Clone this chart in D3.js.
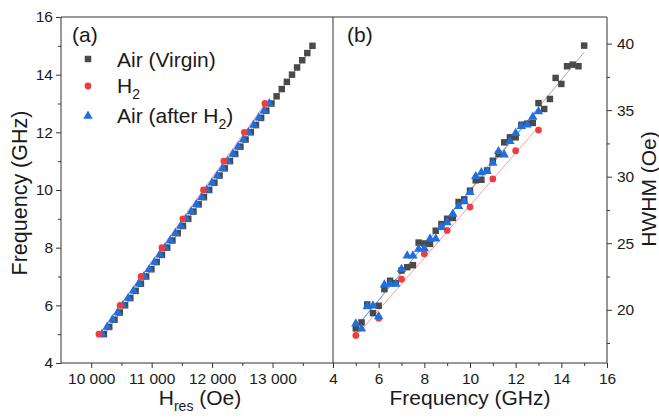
<!DOCTYPE html>
<html>
<head>
<meta charset="utf-8">
<script src="https://cdn.jsdelivr.net/npm/d3@7/dist/d3.min.js"></script>
<style>
  body { margin: 0; background: #fff; }
  svg text { font-family: "Liberation Sans", Arial, sans-serif; fill: #1a1a1a; }
</style>
</head>
<body>
<svg id="chart" width="659" height="419"></svg>
<script>
// ---- data ----
// frequency grid (GHz) for the air (virgin) sample
var virginFreq = [5, 5.25, 5.5, 5.75, 6, 6.25, 6.5, 6.75, 7, 7.25, 7.5, 7.75, 8, 8.25, 8.5, 8.75,
    9, 9.25, 9.5, 9.75, 10, 10.25, 10.5, 10.75, 11, 11.25, 11.5, 11.75, 12, 12.25, 12.5, 12.75,
    13, 13.25, 13.5, 13.75, 14, 14.25, 14.5, 14.75, 15];
var virginHres = [10210, 10298, 10385, 10473, 10560, 10647, 10735, 10822, 10909, 10996, 11083, 11170,
    11257, 11344, 11431, 11518, 11605, 11692, 11778, 11865, 11952, 12038, 12124, 12210, 12296, 12382,
    12468, 12554, 12640, 12725, 12811, 12896, 12982, 13067, 13152, 13237, 13322, 13406, 13491, 13575, 13660];
var virginHwhm = [18.6, 19.05, 20.4, 19.75, 20.3, 21.55, 22.18, 22.0, 22.95, 23.2, 23.35, 25.05,
    24.98, 24.95, 25.94, 26.44, 26.84, 26.9, 28.1, 28.3, 28.95, 29.73, 29.77, 30.47, 31.2, 31.7,
    32.58, 32.96, 32.96, 33.9, 33.98, 34.04, 35.53, 35.09, 35.84, 37.42, 36.97, 38.3, 38.42, 38.3, 39.85];

// H2 sample
var h2Freq = [5, 6, 7, 8, 9, 10, 11, 12, 13];
var h2Hres = [10128, 10478, 10824, 11170, 11516, 11857, 12195, 12533, 12874];
var h2Hwhm = [18.07, 19.37, 22.3, 24.2, 25.96, 27.72, 29.83, 31.95, 33.5];

// air after H2
var afterFreq = [5, 5.25, 5.5, 5.75, 6, 6.25, 6.5, 6.75, 7, 7.25, 7.5, 7.75, 8, 8.25, 8.5, 8.75,
    9, 9.25, 9.5, 9.75, 10, 10.25, 10.5, 10.75, 11, 11.25, 11.5, 11.75, 12, 12.25, 12.5, 12.75, 13];
var afterHres = [10178, 10264, 10351, 10438, 10525, 10612, 10699, 10786, 10873, 10960, 11047, 11134,
    11221, 11308, 11394, 11481, 11568, 11654, 11741, 11828, 11914, 12000, 12087, 12173, 12259, 12345,
    12431, 12517, 12602, 12688, 12773, 12859, 12946];
var afterHwhm = [18.95, 18.57, 20.25, 20.3, 19.5, 21.88, 21.93, 21.93, 23.06, 24.06, 24.06, 24.56,
    24.6, 25.34, 25.34, 26.2, 26.56, 27.2, 27.77, 28.14, 28.82, 30.03, 30.32, 30.4, 31.03, 31.9,
    31.65, 32.66, 33.28, 33.78, 33.9, 34.49, 34.9];

// axis ticks
var hresTicks = [10000, 11000, 12000, 13000, 14000];
var hresMinor = [10500, 11500, 12500, 13500];
var freqTicks = [4, 6, 8, 10, 12, 14, 16];
var freqMinor = [5, 7, 9, 11, 13, 15];
var hwhmTicks = [20, 25, 30, 35, 40];
var hwhmMinor = [17.5, 22.5, 27.5, 32.5, 37.5];

var seriesNames = ["Air (Virgin)", "H", "Air (after H"];

var svg = d3.select("#chart"),
    yTop = 17, yBot = 363,
    lx0 = 61, lx1 = 333, rx1 = 607,
    grey = "#4a4a4a", red = "#f03c3c", blue = "#1f6fe0",
    greyLine = "#a8a8a8", redLine = "#f5a0a0", blueLine = "#7ea6e6",
    axisCol = "#333";

// scales
var xH = d3.scaleLinear().domain([9500, 14000]).range([lx0, lx1]);
var yF = d3.scaleLinear().domain([4, 16]).range([yBot, yTop]);
var xF = d3.scaleLinear().domain([4, 16]).range([lx1, rx1]);
var yW = d3.scaleLinear().domain([16, 42]).range([yBot, yTop]);

var spaceFmt = function (d) { return d3.format(",")(d).replace(",", " "); };

function styleAxis(g) {
    g.select(".domain").remove();
    g.selectAll("line").attr("stroke", axisCol);
    g.selectAll("text").attr("font-size", "15.5px").attr("fill", "#1a1a1a");
}

// major + minor ticks
svg.append("g").attr("transform", "translate(0," + yBot + ")")
    .call(d3.axisBottom(xH).tickValues(hresTicks).tickSize(5).tickPadding(5)
        .tickFormat(function (d) { return d === 14000 ? "" : spaceFmt(d); }))
    .call(styleAxis);
svg.append("g").attr("transform", "translate(0," + yBot + ")")
    .call(d3.axisBottom(xH).tickValues(hresMinor).tickSize(3).tickFormat(""))
    .call(styleAxis);

svg.append("g").attr("transform", "translate(" + lx0 + ",0)")
    .call(d3.axisLeft(yF).tickValues(freqTicks).tickSize(5).tickPadding(3))
    .call(styleAxis);
svg.append("g").attr("transform", "translate(" + lx0 + ",0)")
    .call(d3.axisLeft(yF).tickValues(freqMinor).tickSize(3).tickFormat(""))
    .call(styleAxis);

svg.append("g").attr("transform", "translate(0," + yBot + ")")
    .call(d3.axisBottom(xF).tickValues(freqTicks).tickSize(5).tickPadding(5))
    .call(styleAxis);
svg.append("g").attr("transform", "translate(0," + yBot + ")")
    .call(d3.axisBottom(xF).tickValues(freqMinor).tickSize(3).tickFormat(""))
    .call(styleAxis);

svg.append("g").attr("transform", "translate(" + rx1 + ",0)")
    .call(d3.axisRight(yW).tickValues(hwhmTicks).tickSize(5).tickPadding(5))
    .call(styleAxis);
svg.append("g").attr("transform", "translate(" + rx1 + ",0)")
    .call(d3.axisRight(yW).tickValues(hwhmMinor).tickSize(3).tickFormat(""))
    .call(styleAxis);

// frame
var frame = svg.append("g").attr("stroke", axisCol).attr("stroke-width", 1).attr("fill", "none");
frame.append("path").attr("d", "M" + lx0 + "," + yTop + "H" + rx1 + "V" + yBot + "H" + lx0 + "Z");
frame.append("line").attr("x1", lx1).attr("x2", lx1).attr("y1", yTop).attr("y2", yBot);

// least squares fit of y on x
function fit(xs, ys) {
    var mx = d3.mean(xs), my = d3.mean(ys), sxy = 0, sxx = 0;
    xs.forEach(function (x, i) { sxy += (x - mx) * (ys[i] - my); sxx += (x - mx) * (x - mx); });
    var b = sxy / sxx;
    return function (x) { return my + b * (x - mx); };
}

// fit lines, panel (a): H as function of f
function fitLineA(fr, hs, col) {
    var f = fit(fr, hs), e = d3.extent(fr);
    svg.append("line")
        .attr("x1", xH(f(e[0]))).attr("y1", yF(e[0]))
        .attr("x2", xH(f(e[1]))).attr("y2", yF(e[1]))
        .attr("stroke", col).attr("stroke-width", 1);
}
function fitLineB(fr, ws, col) {
    var f = fit(fr, ws), e = d3.extent(fr);
    svg.append("line")
        .attr("x1", xF(e[0])).attr("y1", yW(f(e[0])))
        .attr("x2", xF(e[1])).attr("y2", yW(f(e[1])))
        .attr("stroke", col).attr("stroke-width", 1);
}
fitLineA(virginFreq, virginHres, greyLine);
fitLineA(afterFreq, afterHres, blueLine);
fitLineA(h2Freq, h2Hres, redLine);
fitLineB(virginFreq, virginHwhm, greyLine);
fitLineB(afterFreq, afterHwhm, blueLine);
fitLineB(h2Freq, h2Hwhm, redLine);

// markers
var sq = d3.symbol().type(d3.symbolSquare).size(42),
    circ = d3.symbol().type(d3.symbolCircle).size(36),
    tri = d3.symbol().type(d3.symbolTriangle).size(38);

function marks(xs, ys, sx, sy, sym, col) {
    svg.append("g").selectAll("path").data(xs).enter().append("path")
        .attr("d", sym)
        .attr("transform", function (d, i) { return "translate(" + sx(d) + "," + sy(ys[i]) + ")"; })
        .attr("fill", col);
}
// panel (a): x = Hres, y = frequency
marks(virginHres, virginFreq, xH, yF, sq, grey);
marks(afterHres, afterFreq, xH, yF, tri, blue);
marks(h2Hres, h2Freq, xH, yF, circ, red);
// panel (b): x = frequency, y = HWHM
marks(virginFreq, virginHwhm, xF, yW, sq, grey);
marks(h2Freq, h2Hwhm, xF, yW, circ, red);
marks(afterFreq, afterHwhm, xF, yW, tri, blue);

// panel labels
svg.append("text").attr("x", 72).attr("y", 42).attr("font-size", "21px").text("(a)");
svg.append("text").attr("x", 347).attr("y", 42).attr("font-size", "21px").text("(b)");

// legend
var legY = [59, 86, 116], legSym = [sq, circ, tri], legCol = [grey, red, blue];
legY.forEach(function (y, i) {
    svg.append("path").attr("d", legSym[i]).attr("fill", legCol[i])
        .attr("transform", "translate(88," + y + ")");
});
svg.append("text").attr("x", 117).attr("y", 67).attr("font-size", "21px").text(seriesNames[0]);
var t2 = svg.append("text").attr("x", 117).attr("y", 93).attr("font-size", "21px");
t2.append("tspan").text(seriesNames[1]);
t2.append("tspan").attr("font-size", "14px").attr("dy", 6).text("2");
var t3 = svg.append("text").attr("x", 117).attr("y", 123).attr("font-size", "21px");
t3.append("tspan").text(seriesNames[2]);
t3.append("tspan").attr("font-size", "14px").attr("dy", 6).text("2");
t3.append("tspan").attr("dy", -6).text(")");

// axis titles
var hx = svg.append("text").attr("x", 200).attr("y", 405).attr("text-anchor", "middle").attr("font-size", "21px");
hx.append("tspan").text("H");
hx.append("tspan").attr("font-size", "14px").attr("dy", 6).text("res");
hx.append("tspan").attr("dy", -6).text(" (Oe)");

svg.append("text").attr("x", 470).attr("y", 405).attr("text-anchor", "middle")
    .attr("font-size", "21px").text("Frequency (GHz)");

svg.append("text").attr("transform", "translate(27,193) rotate(-90)").attr("text-anchor", "middle")
    .attr("font-size", "21.5px").text("Frequency (GHz)");

svg.append("text").attr("transform", "translate(656,189) rotate(-90)").attr("text-anchor", "middle")
    .attr("font-size", "21px").text("HWHM (Oe)");
</script>
</body>
</html>
